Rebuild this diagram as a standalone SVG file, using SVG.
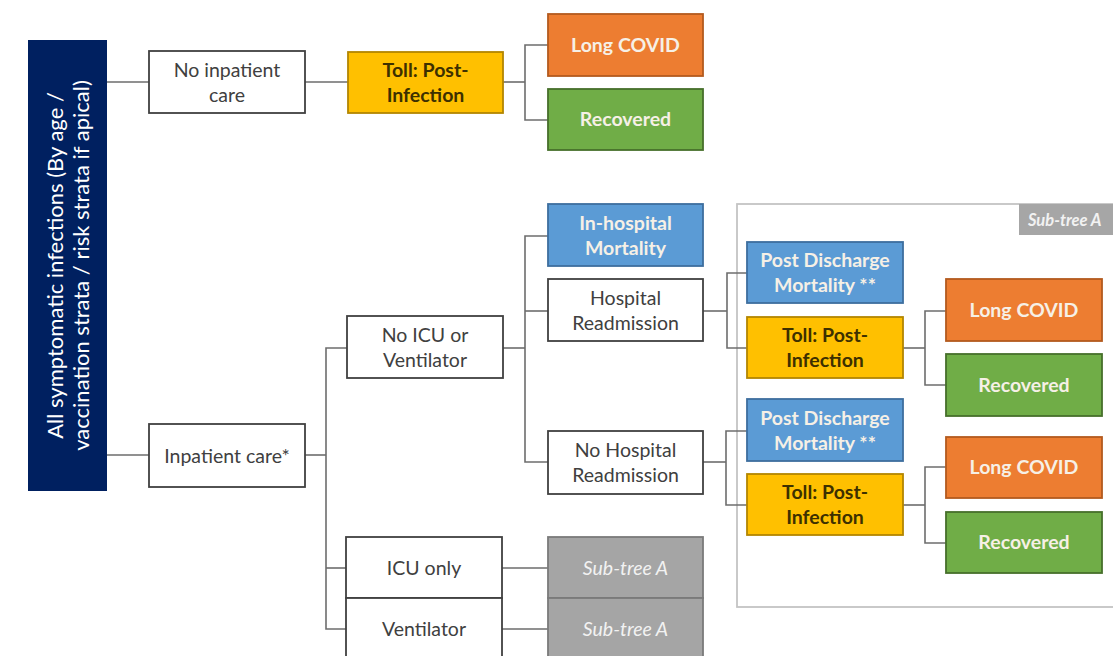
<svg xmlns="http://www.w3.org/2000/svg" width="1113" height="656" viewBox="0 0 1113 656">
<style>
.bg{fill:#ffffff}
.conn line,.conn polyline{stroke:#6d6d6d;stroke-width:1.6;fill:none}
.box rect{stroke-width:1.8}
.w rect{fill:#ffffff;stroke:#404040}
.y rect{fill:#FFC000;stroke:#B38600}
.o rect{fill:#ED7D31;stroke:#B35A1E}
.g rect{fill:#70AD47;stroke:#466F2B}
.b rect{fill:#5B9BD5;stroke:#3D6E9E}
.s rect{fill:#A5A5A5;stroke:#7a7a7a}
text{font-family:Lato,"Liberation Sans",Arial,sans-serif;font-size:19.5px;text-anchor:middle}
.w text{fill:#404040}
.y text{fill:#3d3000;font-weight:bold}
.o text,.g text,.b text{fill:#F6F0E6;font-weight:bold}
.s text{fill:#F2F2F2;font-style:italic}
.root text{fill:#ffffff;font-size:22px}
</style>
<rect class="bg" x="0" y="0" width="1113" height="656"/>

<g id="frame-subtree-a">
<rect x="737" y="204" width="390" height="403" fill="none" stroke="#C4C4C4" stroke-width="1.8"/>
<rect x="1019" y="204" width="100" height="31" fill="#A6A6A6"/>
<text x="1028" y="226" style="font-size:16.5px;font-weight:bold;font-style:italic;fill:#F2F2F2;text-anchor:start">Sub-tree A</text>
</g>

<g id="connectors" class="conn">
<line x1="107" y1="82" x2="149" y2="82"/>
<line x1="107" y1="455" x2="149" y2="455"/>
<line x1="305" y1="82" x2="348" y2="82"/>
<polyline points="503,82 525,82"/>
<polyline points="548,45 525,45 525,120 548,120"/>
<line x1="305" y1="455" x2="326" y2="455"/>
<polyline points="347,348 326,348 326,629 346,629"/>
<line x1="326" y1="568" x2="346" y2="568"/>
<line x1="503" y1="348" x2="525" y2="348"/>
<polyline points="548,236 525,236 525,462 548,462"/>
<line x1="525" y1="311" x2="548" y2="311"/>
<line x1="703" y1="311" x2="727" y2="311"/>
<polyline points="747,273 727,273 727,348 747,348"/>
<line x1="703" y1="462" x2="726" y2="462"/>
<polyline points="747,431 726,431 726,505 747,505"/>
<line x1="903" y1="348" x2="925" y2="348"/>
<polyline points="946,311 925,311 925,385 946,385"/>
<line x1="903" y1="505" x2="925" y2="505"/>
<polyline points="946,467 925,467 925,543 946,543"/>
<line x1="502" y1="568" x2="548" y2="568"/>
<line x1="502" y1="629" x2="548" y2="629"/>
</g>

<g id="root" class="root">
<rect x="28" y="40" width="79" height="451" fill="#002060"/>
<g transform="translate(63,265.5) rotate(-90)">
<text x="0" y="0">All symptomatic infections (By age /</text>
<text x="0" y="26">vaccination strata / risk strata if apical)</text>
</g>
</g>

<g id="no-inpatient-care" class="box w"><rect x="149" y="51" width="156" height="62"/><text x="227" y="77">No inpatient</text><text x="227" y="102">care</text></g>
<g id="toll-1" class="box y"><rect x="348" y="52" width="155" height="61"/><text x="425.5" y="77">Toll: Post-</text><text x="425.5" y="102">Infection</text></g>
<g id="long-covid-1" class="box o"><rect x="548" y="14" width="155" height="62"/><text x="625.5" y="52">Long COVID</text></g>
<g id="recovered-1" class="box g"><rect x="548" y="89" width="155" height="61"/><text x="625.5" y="126">Recovered</text></g>

<g id="inpatient-care" class="box w"><rect x="149" y="424" width="156" height="63"/><text x="227" y="463">Inpatient care*</text></g>
<g id="no-icu" class="box w"><rect x="347" y="316" width="156" height="62"/><text x="425" y="342">No ICU or</text><text x="425" y="367">Ventilator</text></g>
<g id="icu-only" class="box w"><rect x="346" y="537" width="156" height="61"/><text x="424" y="575">ICU only</text></g>
<g id="ventilator" class="box w"><rect x="346" y="598" width="156" height="64"/><text x="424" y="636">Ventilator</text></g>
<g id="subtree-a-1" class="box s"><rect x="548" y="537" width="155" height="61"/><text x="625.5" y="575">Sub-tree A</text></g>
<g id="subtree-a-2" class="box s"><rect x="548" y="598" width="155" height="64"/><text x="625.5" y="636">Sub-tree A</text></g>

<g id="in-hospital-mortality" class="box b"><rect x="548" y="204" width="155" height="62"/><text x="625.5" y="230">In-hospital</text><text x="625.5" y="255">Mortality</text></g>
<g id="hospital-readmission" class="box w"><rect x="548" y="279" width="155" height="62"/><text x="625.5" y="305">Hospital</text><text x="625.5" y="330">Readmission</text></g>
<g id="no-hospital-readmission" class="box w"><rect x="548" y="431" width="155" height="63"/><text x="625.5" y="457">No Hospital</text><text x="625.5" y="482">Readmission</text></g>

<g id="post-discharge-1" class="box b"><rect x="747" y="242" width="156" height="61"/><text x="825" y="267">Post Discharge</text><text x="825" y="292">Mortality **</text></g>
<g id="toll-2" class="box y"><rect x="747" y="317" width="156" height="61"/><text x="825" y="342">Toll: Post-</text><text x="825" y="367">Infection</text></g>
<g id="post-discharge-2" class="box b"><rect x="747" y="399" width="156" height="62"/><text x="825" y="425">Post Discharge</text><text x="825" y="450">Mortality **</text></g>
<g id="toll-3" class="box y"><rect x="747" y="474" width="156" height="61"/><text x="825" y="499">Toll: Post-</text><text x="825" y="524">Infection</text></g>

<g id="long-covid-2" class="box o"><rect x="946" y="279" width="156" height="62"/><text x="1024" y="317">Long COVID</text></g>
<g id="recovered-2" class="box g"><rect x="946" y="354" width="156" height="62"/><text x="1024" y="392">Recovered</text></g>
<g id="long-covid-3" class="box o"><rect x="946" y="437" width="156" height="61"/><text x="1024" y="474">Long COVID</text></g>
<g id="recovered-3" class="box g"><rect x="946" y="512" width="156" height="61"/><text x="1024" y="549">Recovered</text></g>
</svg>
